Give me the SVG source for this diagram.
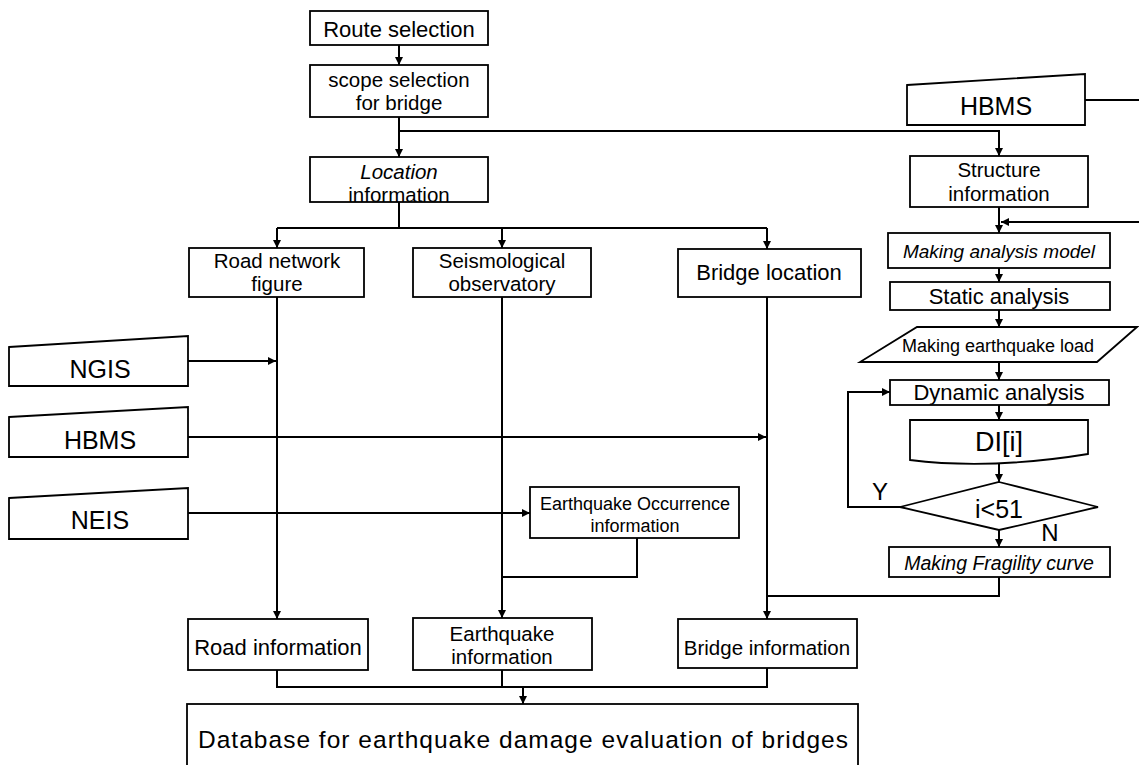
<svg xmlns="http://www.w3.org/2000/svg" width="1139" height="765" viewBox="0 0 1139 765">
<defs>
<marker id="ah" viewBox="0 0 10 10" refX="10" refY="5" markerWidth="9" markerHeight="8" markerUnits="userSpaceOnUse" orient="auto">
<path d="M0,0 L10,5 L0,10 z" fill="#000"/>
</marker>
</defs>
<style>
.b{fill:#fff;stroke:#000;stroke-width:1.8}
.t{font-family:"Liberation Sans",Arial,sans-serif;font-size:22px;fill:#000;text-anchor:middle}
.two{font-size:20.5px}
.s{font-size:18px}
.i{font-style:italic}
.big{font-size:25px}
.c{fill:none;stroke:#000;stroke-width:2}
.a{marker-end:url(#ah)}
</style>
<rect width="1139" height="765" fill="#fff"/>

<g id="connectors">
<path class="c a" d="M399,45 L399,65"/>
<path class="c a" d="M399,117 L399,157"/>
<path class="c a" d="M399,131 L999,131 L999,156"/>
<path class="c" d="M399,202 L399,228"/>
<path class="c a" d="M277,228 L277,248"/>
<path class="c a" d="M502,228 L502,248"/>
<path class="c a" d="M767,228 L767,249"/>
<path class="c" d="M277,228 L767,228"/>
<path class="c a" d="M277,297 L277,619"/>
<path class="c a" d="M502,297 L502,618"/>
<path class="c a" d="M767,297 L767,619"/>
<path class="c a" d="M188,361 L276,361"/>
<path class="c a" d="M188,437 L766,437"/>
<path class="c a" d="M188,513 L530,513"/>
<path class="c" d="M637,538 L637,577 L502,577"/>
<path class="c" d="M277,670 L277,687 L767,687 L767,668"/>
<path class="c" d="M502,670 L502,687"/>
<path class="c a" d="M523,687 L523,704"/>
<path class="c" d="M1085,100 L1139,100"/>
<path class="c a" d="M999,207 L999,233"/>
<path class="c a" d="M1139,222 L1001,222"/>
<path class="c a" d="M999,268 L999,282"/>
<path class="c a" d="M999,310 L999,327"/>
<path class="c a" d="M999,362 L999,380"/>
<path class="c a" d="M999,405 L999,420"/>
<path class="c a" d="M999,459 L999,482"/>
<path class="c a" d="M999,530 L999,547"/>
<path class="c a" d="M900,507 L848,507 L848,392 L890,392"/>
<path class="c" d="M999,577 L999,596 L767,596"/>
</g>

<g id="route">
<rect class="b" x="310" y="11" width="178" height="34"/>
<text class="t" x="399" y="37">Route selection</text>
</g>
<g id="scope">
<rect class="b" x="310" y="65" width="178" height="52"/>
<text class="t two" x="399" y="87">scope selection</text>
<text class="t two" x="399" y="110">for bridge</text>
</g>
<g id="location">
<rect class="b" x="310" y="157" width="178" height="45"/>
<text class="t two i" x="399" y="179">Location</text>
<text class="t two" x="399" y="202">information</text>
</g>
<g id="roadnet">
<rect class="b" x="189" y="248" width="175" height="49"/>
<text class="t two" x="277" y="268">Road network</text>
<text class="t two" x="277" y="291">figure</text>
</g>
<g id="seismo">
<rect class="b" x="413" y="248" width="178" height="49"/>
<text class="t two" x="502" y="268">Seismological</text>
<text class="t two" x="502" y="291">observatory</text>
</g>
<g id="bridgeloc">
<rect class="b" x="678" y="249" width="183" height="48"/>
<text class="t" x="769" y="280">Bridge location</text>
</g>
<g id="ngis">
<path class="b" d="M9,347 L188,336 L188,386 L9,386 z"/>
<text class="t big" x="100" y="378">NGIS</text>
</g>
<g id="hbms-left">
<path class="b" d="M9,417 L188,407 L188,457 L9,457 z"/>
<text class="t big" x="100" y="449">HBMS</text>
</g>
<g id="neis">
<path class="b" d="M9,498 L188,488 L188,539 L9,539 z"/>
<text class="t big" x="100" y="529">NEIS</text>
</g>
<g id="occurrence">
<rect class="b" x="530" y="487" width="209" height="51"/>
<text class="t s" x="635" y="510">Earthquake Occurrence</text>
<text class="t s" x="635" y="532">information</text>
</g>
<g id="roadinfo">
<rect class="b" x="188" y="619" width="180" height="51"/>
<text class="t" x="278" y="655">Road information</text>
</g>
<g id="eqinfo">
<rect class="b" x="413" y="618" width="179" height="52"/>
<text class="t two" x="502" y="641">Earthquake</text>
<text class="t two" x="502" y="664">information</text>
</g>
<g id="bridgeinfo">
<rect class="b" x="678" y="619" width="179" height="49"/>
<text class="t" x="767" y="655" style="font-size:20.5px">Bridge information</text>
</g>
<g id="database">
<rect class="b" x="187" y="704" width="671" height="70"/>
<text class="t" x="523" y="748" style="font-size:24.5px" textLength="650" lengthAdjust="spacing">Database for earthquake damage evaluation of bridges</text>
</g>
<g id="hbms-right">
<path class="b" d="M907,85 L1085,74 L1085,125 L907,125 z"/>
<text class="t big" x="996" y="115">HBMS</text>
</g>
<g id="structure">
<rect class="b" x="910" y="156" width="178" height="51"/>
<text class="t two" x="999" y="177">Structure</text>
<text class="t two" x="999" y="201">information</text>
</g>
<g id="model">
<rect class="b" x="888" y="233" width="222" height="35"/>
<text class="t i" x="999" y="258" style="font-size:19px">Making analysis model</text>
</g>
<g id="static">
<rect class="b" x="890" y="282" width="220" height="28"/>
<text class="t" x="999" y="304">Static analysis</text>
</g>
<g id="eqload">
<path class="b" d="M917,327 L1137,327 L1097,362 L860,362 z"/>
<text class="t s" x="998" y="352">Making earthquake load</text>
</g>
<g id="dynamic">
<rect class="b" x="890" y="380" width="219" height="25"/>
<text class="t" x="999" y="400">Dynamic analysis</text>
</g>
<g id="di">
<path class="b" d="M910,420 L1088,420 L1088,454 Q990,470 910,460 z"/>
<text class="t" x="999" y="451" style="font-size:27px">DI[i]</text>
</g>
<g id="decision">
<path class="b" d="M999,482 L1098,507 L999,530 L900,507 z"/>
<text class="t big" x="999" y="518">i&lt;51</text>
<text class="t" x="880" y="500" style="font-size:24px">Y</text>
<text class="t" x="1050" y="541" style="font-size:24px">N</text>
</g>
<g id="fragility">
<rect class="b" x="889" y="547" width="221" height="30"/>
<text class="t i" x="999" y="570" style="font-size:19.5px">Making Fragility curve</text>
</g>
</svg>
